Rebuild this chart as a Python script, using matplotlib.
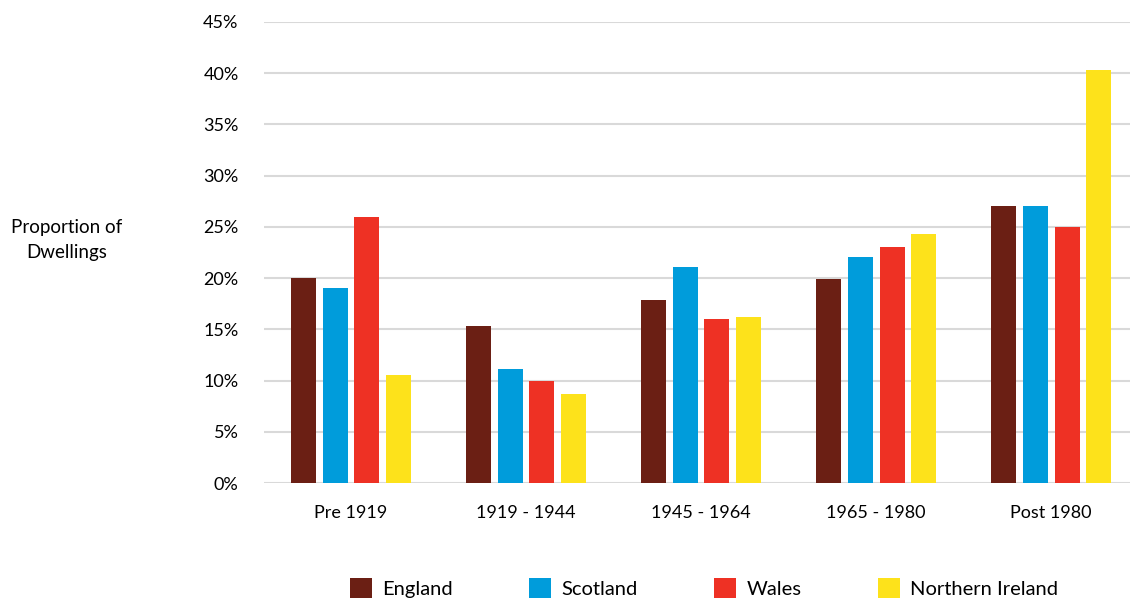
import matplotlib
matplotlib.use("Agg")
import matplotlib.pyplot as plt
import numpy as np

categories = ["Pre 1919", "1919 - 1944", "1945 - 1964", "1965 - 1980", "Post 1980"]
series_names = ["England", "Scotland", "Wales", "Northern Ireland"]
england = [20.0, 15.3, 17.9, 19.9, 27.0]
scotland = [19.0, 11.1, 21.1, 22.1, 27.0]
wales = [26.0, 10.0, 16.0, 23.0, 25.0]
northern_ireland = [10.5, 8.7, 16.2, 24.3, 40.3]
yticks = [0, 5, 10, 15, 20, 25, 30, 35, 40, 45]

colors = ["#6B1F14", "#009CDB", "#EE3124", "#FDE21B"]

plt.rcParams['font.family'] = ['Lato', 'DejaVu Sans']

fig = plt.figure(figsize=(11.30, 5.99), dpi=100)
ax = fig.add_axes([263.5 / 1130, 1 - 483 / 599, (1130 - 263.5) / 1130, (483 - 22) / 599])

x = np.arange(len(categories))
step = 31.7 / 175
width = 25 / 175
all_series = [england, scotland, wales, northern_ireland]
for i, (vals, name, c) in enumerate(zip(all_series, series_names, colors)):
    ax.bar(x + (i - 1.5) * step, vals, width=width, color=c, label=name, zorder=3)

ax.set_xlim(-0.5, 4.45)
ax.set_ylim(0, 45)
ax.set_yticks(yticks)
ax.set_yticklabels([f"{v}%" for v in yticks])
ax.set_xticks(x)
ax.set_xticklabels(categories)
ax.tick_params(axis='both', length=0, labelsize=13, colors='#000000')
ax.tick_params(axis='y', pad=18)
ax.tick_params(axis='x', pad=16)
ax.grid(axis='y', color='#D9D9D9', linewidth=1.5, zorder=0)
ax.set_axisbelow(True)
for s in ax.spines.values():
    s.set_visible(False)

fig.text(67 / 1130, 1 - 240 / 599, "Proportion of\nDwellings", ha='center', va='center',
         multialignment='center', fontsize=13.5, linespacing=1.6)

fig.legend(loc='center', bbox_to_anchor=(704 / 1130, 1 - 588 / 599), ncol=4, frameon=False,
           fontsize=14.5, handlelength=1.1, handleheight=1.1, handletextpad=0.5,
           columnspacing=3.8)

fig.savefig("out.png", dpi=100)
